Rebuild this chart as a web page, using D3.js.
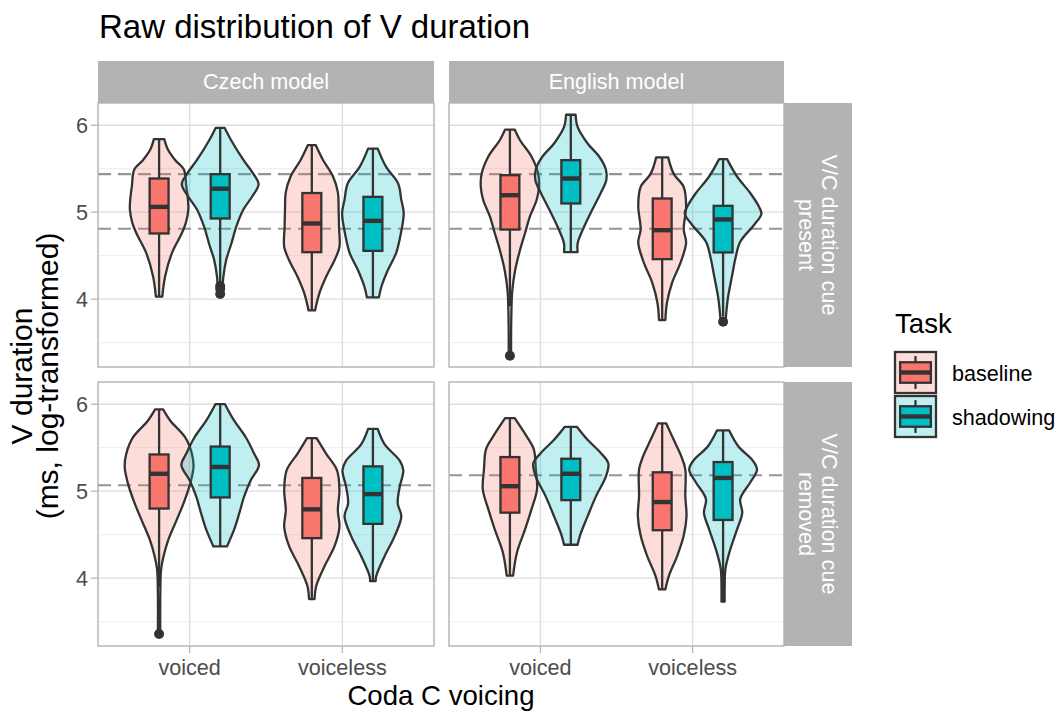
<!DOCTYPE html>
<html><head><meta charset="utf-8">
<script src="https://cdn.jsdelivr.net/npm/d3@7"></script>
<style>
body{margin:0;background:#fff;}
text{font-family:"Liberation Sans", Arial, Helvetica, sans-serif;}
</style></head><body>
<svg id="chart" width="1058" height="711"></svg>
<script>
// ---- facets, categories, ticks ----
const models = ["Czech model", "English model"];
const cueLabels = [["V/C duration cue", "present"], ["V/C duration cue", "removed"]];
const voicing = ["voiced", "voiceless"];
const tasks = ["baseline", "shadowing"];
const taskColors = ["#F8766D", "#00BFC4"];
const yTicks = [4, 5, 6];
const yMinorTicks = [3.5, 4.5, 5.5];
const yDomain = [3.22, 6.255];

// ---- box statistics: voicing, task, lower whisker, q1, median, q3, upper whisker ----
const czechPresentStats = [
  ["voiced", "baseline", 4.03, 4.755, 5.061, 5.387, 5.84],
  ["voiced", "shadowing", 4.19, 4.927, 5.27, 5.437, 5.97],
  ["voiceless", "baseline", 3.87, 4.54, 4.87, 5.22, 5.77],
  ["voiceless", "shadowing", 4.02, 4.555, 4.90, 5.176, 5.73]
];
const englishPresentStats = [
  ["voiced", "baseline", 3.92, 4.80, 5.195, 5.425, 5.95],
  ["voiced", "shadowing", 4.54, 5.10, 5.387, 5.598, 6.12],
  ["voiceless", "baseline", 3.76, 4.46, 4.793, 5.157, 5.63],
  ["voiceless", "shadowing", 3.80, 4.537, 4.916, 5.073, 5.61]
];
const czechRemovedStats = [
  ["voiced", "baseline", 3.90, 4.80, 5.20, 5.422, 5.94],
  ["voiced", "shadowing", 4.365, 4.928, 5.278, 5.513, 6.0],
  ["voiceless", "baseline", 3.76, 4.46, 4.791, 5.152, 5.61],
  ["voiceless", "shadowing", 3.966, 4.624, 4.966, 5.285, 5.715]
];
const englishRemovedStats = [
  ["voiced", "baseline", 4.03, 4.753, 5.057, 5.392, 5.84],
  ["voiced", "shadowing", 4.384, 4.897, 5.20, 5.373, 5.74],
  ["voiceless", "baseline", 3.87, 4.551, 4.875, 5.217, 5.78],
  ["voiceless", "shadowing", 3.73, 4.669, 5.152, 5.335, 5.70]
];

// ---- outliers: voicing, task, values ----
const czechPresentOutliers = [["voiced", "shadowing", [4.15, 4.12, 4.06]]];
const englishPresentOutliers = [["voiced", "baseline", [3.35]], ["voiceless", "shadowing", [3.74]]];
const czechRemovedOutliers = [["voiced", "baseline", [3.357]]];
const englishRemovedOutliers = [];

// ---- violin density profiles: voicing, task, [value, relative density] ----
const czechPresentDensity = [
  ["voiced", "baseline", [[4.03,.08],[4.26,.15],[4.53,.32],[4.76,.57],[4.88,.67],[5.03,.73],[5.15,.72],[5.3,.68],[5.49,.62],[5.6,.40],[5.72,.22],[5.84,.13]]],
  ["voiced", "shadowing", [[4.06,.05],[4.26,.08],[4.45,.15],[4.64,.28],[4.83,.40],[5.03,.58],[5.18,.80],[5.32,.96],[5.44,.83],[5.6,.58],[5.83,.27],[5.97,.11]]],
  ["voiceless", "baseline", [[3.87,.08],[4.07,.19],[4.26,.36],[4.45,.57],[4.6,.69],[4.83,.68],[5.03,.67],[5.23,.65],[5.41,.53],[5.6,.28],[5.77,.10]]],
  ["voiceless", "shadowing", [[4.02,.15],[4.14,.21],[4.34,.38],[4.53,.58],[4.76,.70],[4.99,.77],[5.14,.71],[5.33,.63],[5.52,.33],[5.73,.12]]]
];
const englishPresentDensity = [
  ["voiced", "baseline", [[3.35,.03],[3.6,.03],[3.9,.04],[4.1,.06],[4.33,.13],[4.56,.25],[4.76,.38],[4.95,.50],[5.14,.67],[5.29,.73],[5.44,.71],[5.64,.54],[5.83,.25],[5.95,.12]]],
  ["voiced", "shadowing", [[4.54,.17],[4.64,.17],[4.83,.33],[5.03,.54],[5.22,.75],[5.37,.89],[5.49,.88],[5.64,.71],[5.79,.42],[5.98,.17],[6.12,.12]]],
  ["voiceless", "baseline", [[3.76,.08],[3.96,.12],[4.19,.25],[4.42,.46],[4.65,.60],[4.8,.54],[5.07,.60],[5.29,.54],[5.44,.29],[5.63,.15]]],
  ["voiceless", "shadowing", [[3.74,.06],[4.01,.12],[4.28,.23],[4.47,.31],[4.66,.43],[4.85,.77],[4.98,.96],[5.07,.89],[5.22,.68],[5.41,.35],[5.61,.10]]]
];
const czechRemovedDensity = [
  ["voiced", "baseline", [[3.357,.03],[3.8,.03],[4.1,.05],[4.25,.11],[4.44,.23],[4.67,.44],[4.86,.61],[5.09,.78],[5.28,.86],[5.43,.82],[5.62,.65],[5.81,.28],[5.94,.10]]],
  ["voiced", "shadowing", [[4.365,.17],[4.56,.35],[4.75,.48],[4.94,.60],[5.13,.77],[5.3,.97],[5.43,.85],[5.62,.64],[5.81,.35],[6.0,.12]]],
  ["voiceless", "baseline", [[3.76,.07],[3.91,.11],[4.14,.32],[4.37,.57],[4.59,.69],[4.78,.65],[5.01,.69],[5.24,.63],[5.43,.36],[5.61,.12]]],
  ["voiceless", "shadowing", [[3.966,.07],[4.02,.08],[4.25,.29],[4.48,.54],[4.71,.71],[4.86,.62],[5.05,.67],[5.24,.76],[5.35,.67],[5.54,.29],[5.715,.12]]]
];
const englishRemovedDensity = [
  ["voiced", "baseline", [[4.03,.08],[4.30,.18],[4.56,.38],[4.79,.54],[5.02,.68],[5.25,.65],[5.48,.60],[5.63,.42],[5.84,.12]]],
  ["voiced", "shadowing", [[4.384,.17],[4.49,.23],[4.71,.42],[4.94,.63],[5.17,.88],[5.32,.94],[5.44,.75],[5.59,.42],[5.74,.15]]],
  ["voiceless", "baseline", [[3.87,.08],[4.03,.17],[4.26,.38],[4.49,.54],[4.71,.61],[4.94,.58],[5.25,.58],[5.40,.48],[5.59,.29],[5.78,.10]]],
  ["voiceless", "shadowing", [[3.73,.04],[3.9,.04],[4.11,.06],[4.33,.18],[4.56,.35],[4.75,.48],[4.91,.43],[5.10,.68],[5.25,.85],[5.36,.73],[5.51,.39],[5.70,.15]]]
];

// ---- dashed reference lines per panel ----
const czechPresentRef = [5.437, 4.81];
const englishPresentRef = [5.437, 4.81];
const czechRemovedRef = [5.068];
const englishRemovedRef = [5.183];

// ---- layout ----
const colX = [[98, 434], [449, 784]];
const rowY = [[103, 367], [382, 646]];
const stripTop = 61;
const stripRight = [784, 852];
const outline = "#333333";
const lw = 2.3;                 // outline width
const violinHalfMax = 0.262;    // share of the category step at relative density 1
const boxHalf = 0.062;
const dodge = 0.2;

const panels = [
  {col: 0, row: 0, stats: czechPresentStats, outliers: czechPresentOutliers, density: czechPresentDensity, ref: czechPresentRef},
  {col: 1, row: 0, stats: englishPresentStats, outliers: englishPresentOutliers, density: englishPresentDensity, ref: englishPresentRef},
  {col: 0, row: 1, stats: czechRemovedStats, outliers: czechRemovedOutliers, density: czechRemovedDensity, ref: czechRemovedRef},
  {col: 1, row: 1, stats: englishRemovedStats, outliers: englishRemovedOutliers, density: englishRemovedDensity, ref: englishRemovedRef}
];

const svg = d3.select("#chart");
svg.append("rect").attr("width", 1058).attr("height", 711).attr("fill", "#fff");

// title
svg.append("text").attr("x", 99).attr("y", 38).attr("font-size", 33).attr("fill", "#000")
  .text("Raw distribution of V duration");

panels.forEach(p => {
  const [x0, x1] = colX[p.col];
  const [y0, y1] = rowY[p.row];
  const x = d3.scalePoint().domain(voicing).range([x0, x1]).padding(0.6);
  const step = x.step();
  const y = d3.scaleLinear().domain(yDomain).range([y1, y0]);
  const g = svg.append("g");
  const cx = (v, t) => x(v) + (tasks.indexOf(t) === 0 ? -dodge : dodge) * step;

  g.append("rect").attr("x", x0).attr("y", y0).attr("width", x1 - x0).attr("height", y1 - y0).attr("fill", "#fff");

  // grid
  g.selectAll(".minor").data(yMinorTicks).join("line")
    .attr("x1", x0).attr("x2", x1).attr("y1", d => y(d)).attr("y2", d => y(d))
    .attr("stroke", "#EBEBEB").attr("stroke-width", 0.9);
  g.selectAll(".major").data(yTicks).join("line")
    .attr("x1", x0).attr("x2", x1).attr("y1", d => y(d)).attr("y2", d => y(d))
    .attr("stroke", "#DEDEDE").attr("stroke-width", 1.4);
  g.selectAll(".xmajor").data(voicing).join("line")
    .attr("x1", d => x(d)).attr("x2", d => x(d)).attr("y1", y0).attr("y2", y1)
    .attr("stroke", "#DEDEDE").attr("stroke-width", 1.4);

  // reference lines
  g.selectAll(".ref").data(p.ref).join("line")
    .attr("x1", x0).attr("x2", x1).attr("y1", d => y(d)).attr("y2", d => y(d))
    .attr("stroke", "#959595").attr("stroke-width", 2.1).attr("stroke-dasharray", "13,7");

  // violins
  p.density.forEach(([v, t, prof]) => {
    const c = cx(v, t);
    const w = violinHalfMax * step;
    const area = d3.area().curve(d3.curveCatmullRom.alpha(0.5))
      .y(d => y(d[0])).x0(d => c - d[1] * w).x1(d => c + d[1] * w);
    g.append("path").attr("d", area(prof))
      .attr("fill", taskColors[tasks.indexOf(t)]).attr("fill-opacity", 0.25)
      .attr("stroke", outline).attr("stroke-width", lw).attr("stroke-linejoin", "round");
  });

  // boxplots
  p.stats.forEach(([v, t, lo, q1, med, q3, hi]) => {
    const c = cx(v, t);
    const hw = boxHalf * step;
    g.append("line").attr("x1", c).attr("x2", c).attr("y1", y(lo)).attr("y2", y(q1))
      .attr("stroke", outline).attr("stroke-width", lw);
    g.append("line").attr("x1", c).attr("x2", c).attr("y1", y(q3)).attr("y2", y(hi))
      .attr("stroke", outline).attr("stroke-width", lw);
    g.append("rect").attr("x", c - hw).attr("y", y(q3)).attr("width", 2 * hw).attr("height", y(q1) - y(q3))
      .attr("fill", taskColors[tasks.indexOf(t)]).attr("stroke", outline).attr("stroke-width", lw);
    g.append("line").attr("x1", c - hw).attr("x2", c + hw).attr("y1", y(med)).attr("y2", y(med))
      .attr("stroke", outline).attr("stroke-width", 4.4);
  });
  p.outliers.forEach(([v, t, vals]) => {
    const c = cx(v, t);
    vals.forEach(val => g.append("circle").attr("cx", c).attr("cy", y(val)).attr("r", 5).attr("fill", outline));
  });

  // border
  g.append("rect").attr("x", x0).attr("y", y0).attr("width", x1 - x0).attr("height", y1 - y0)
    .attr("fill", "none").attr("stroke", "#B3B3B3").attr("stroke-width", 1.4);

  // y axis on left column
  if (p.col === 0) {
    yTicks.forEach(tk => {
      g.append("line").attr("x1", x0 - 7).attr("x2", x0).attr("y1", y(tk)).attr("y2", y(tk))
        .attr("stroke", "#B3B3B3").attr("stroke-width", 1.2);
      g.append("text").attr("x", x0 - 10).attr("y", y(tk)).attr("dy", "0.35em")
        .attr("text-anchor", "end").attr("font-size", 21.6).attr("fill", "#4D4D4D").text(tk);
    });
  }
  // x axis on bottom row
  if (p.row === 1) {
    voicing.forEach(v => {
      g.append("line").attr("x1", x(v)).attr("x2", x(v)).attr("y1", y1).attr("y2", y1 + 7)
        .attr("stroke", "#B3B3B3").attr("stroke-width", 1.2);
      g.append("text").attr("x", x(v)).attr("y", 675).attr("text-anchor", "middle")
        .attr("font-size", 21.6).attr("fill", "#4D4D4D").text(v);
    });
  }
  // column strip
  if (p.row === 0) {
    g.append("rect").attr("x", x0).attr("y", stripTop).attr("width", x1 - x0).attr("height", y0 - stripTop)
      .attr("fill", "#B3B3B3");
    g.append("text").attr("x", (x0 + x1) / 2).attr("y", 89).attr("text-anchor", "middle")
      .attr("font-size", 21.6).attr("fill", "#fff").text(models[p.col]);
  }
  // row strip
  if (p.col === 1) {
    const [sx0, sx1] = stripRight;
    g.append("rect").attr("x", sx0).attr("y", y0).attr("width", sx1 - sx0).attr("height", y1 - y0)
      .attr("fill", "#B3B3B3");
    const t = g.append("text").attr("transform", `translate(0,${(y0 + y1) / 2}) rotate(90)`)
      .attr("text-anchor", "middle").attr("font-size", 21.6).attr("fill", "#fff");
    t.append("tspan").attr("x", 0).attr("y", -822).text(cueLabels[p.row][0]);
    t.append("tspan").attr("x", 0).attr("y", -799).text(cueLabels[p.row][1]);
  }
});

// axis titles
const yt = svg.append("text").attr("transform", "rotate(-90)")
  .attr("text-anchor", "middle").attr("font-size", 30).attr("fill", "#000");
yt.append("tspan").attr("x", -376).attr("y", 32).text("V duration");
yt.append("tspan").attr("x", -376).attr("y", 58).text("(ms, log-transformed)");

svg.append("text").attr("x", 441).attr("y", 705).attr("text-anchor", "middle")
  .attr("font-size", 27.6).attr("fill", "#000").text("Coda C voicing");

// legend
const lg = svg.append("g");
lg.append("text").attr("x", 895).attr("y", 333).attr("font-size", 27.6).attr("fill", "#000").text("Task");
const keySize = 41;
const keyTops = [352, 396];
tasks.forEach((t, i) => {
  const kx = 895, ky = keyTops[i];
  lg.append("rect").attr("x", kx).attr("y", ky).attr("width", keySize).attr("height", keySize)
    .attr("fill", taskColors[i]).attr("fill-opacity", 0.25).attr("stroke", outline).attr("stroke-width", lw);
  const cxk = kx + keySize / 2;
  lg.append("line").attr("x1", cxk).attr("x2", cxk).attr("y1", ky + keySize * 0.1).attr("y2", ky + keySize * 0.25)
    .attr("stroke", outline).attr("stroke-width", lw);
  lg.append("line").attr("x1", cxk).attr("x2", cxk).attr("y1", ky + keySize * 0.75).attr("y2", ky + keySize * 0.9)
    .attr("stroke", outline).attr("stroke-width", lw);
  lg.append("rect").attr("x", kx + keySize * 0.125).attr("y", ky + keySize * 0.25)
    .attr("width", keySize * 0.75).attr("height", keySize * 0.5)
    .attr("fill", taskColors[i]).attr("stroke", outline).attr("stroke-width", lw);
  lg.append("line").attr("x1", kx + keySize * 0.125).attr("x2", kx + keySize * 0.875)
    .attr("y1", ky + keySize * 0.5).attr("y2", ky + keySize * 0.5)
    .attr("stroke", outline).attr("stroke-width", 4.4);
  lg.append("text").attr("x", 952).attr("y", ky + 28.5).attr("font-size", 21.6).attr("fill", "#000").text(t);
});
</script>
</body></html>
